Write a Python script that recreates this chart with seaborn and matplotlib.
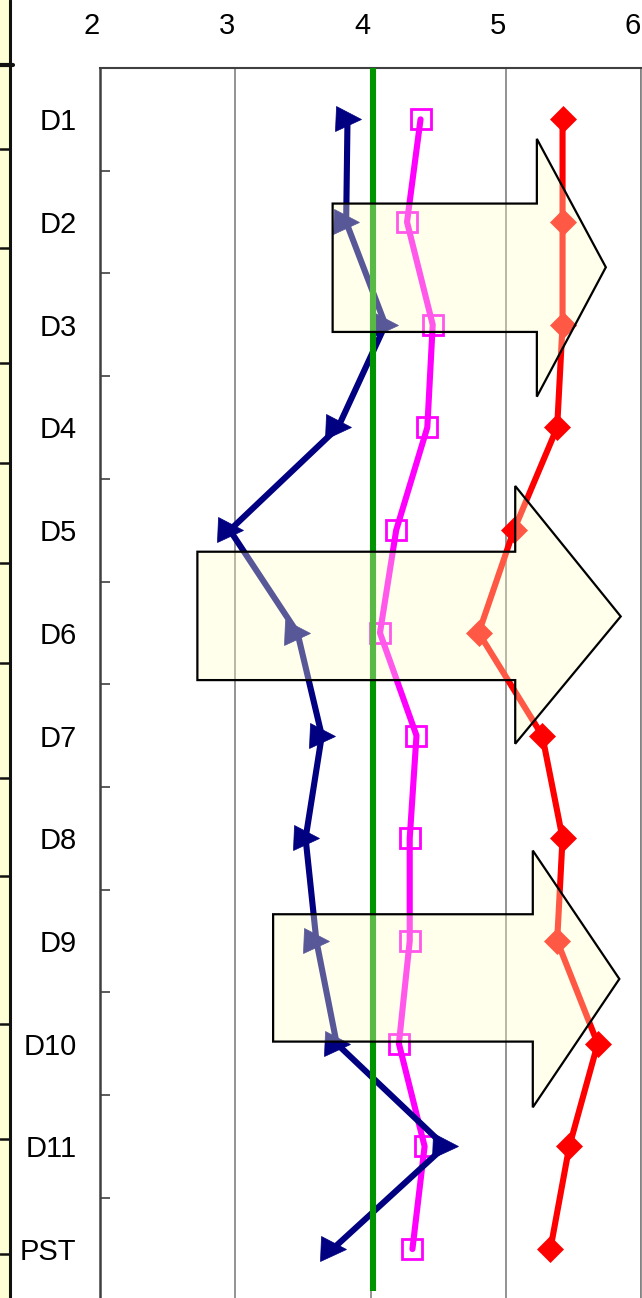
import numpy as np
import pandas as pd
import matplotlib
matplotlib.use("Agg")
import matplotlib.pyplot as plt
import matplotlib.transforms as mtransforms
from matplotlib.patches import Polygon, Rectangle
from matplotlib.lines import Line2D
import seaborn as sns

# ---------------- data ----------------
categories = ["D1", "D2", "D3", "D4", "D5", "D6", "D7", "D8", "D9", "D10", "D11", "PST"]
series_navy = [3.83, 3.82, 4.11, 3.76, 2.96, 3.46, 3.64, 3.52, 3.60, 3.75, 4.55, 3.72]
series_magenta = [4.37, 4.27, 4.46, 4.42, 4.19, 4.07, 4.34, 4.29, 4.29, 4.21, 4.40, 4.31]
series_red = [5.42, 5.42, 5.42, 5.38, 5.06, 4.80, 5.27, 5.42, 5.38, 5.68, 5.47, 5.33]
reference_value = 4.02
x_ticks = [2, 3, 4, 5, 6]

# block-arrow annotations: (body_left_x, neck_x, tip_x, body_top, body_bottom, head_top, head_bottom, tip_y)
arrows = [
    (3.72, 5.23, 5.74, 0.82, 2.07, 0.19, 2.70, 1.44),
    (2.72, 5.07, 5.85, 4.21, 5.46, 3.57, 6.08, 4.84),
    (3.28, 5.20, 5.84, 7.74, 8.98, 7.12, 9.62, 8.37),
]

sns.set_theme(style="white")
plt.rcParams["font.family"] = ["Liberation Sans", "DejaVu Sans"]

W, H = 642, 1298
fig = plt.figure(figsize=(W / 100, H / 100), dpi=100)
ax_left, ax_right, ax_top = 100, 641, 68
ax_bottom = ax_top + 12 * 102.7
ax = fig.add_axes([ax_left / W, (H - ax_bottom) / H, (ax_right - ax_left) / W, (ax_bottom - ax_top) / H])

pos = np.arange(len(categories))
df = pd.DataFrame({
    "cat": categories, "pos": pos,
    "navy": series_navy, "magenta": series_magenta, "red": series_red,
})

ax.set_xlim(2, 6)
ax.set_ylim(11.5, -0.5)

# gridlines
for xv in x_ticks:
    ax.axvline(xv, color="#808080", lw=1.2, zorder=0.5)

common = dict(orient="y", sort=False, estimator=None, ax=ax, legend=False)
sns.lineplot(data=df, x="red", y="pos", color="#FF0000", lw=4.4,
             marker="D", markersize=13, markerfacecolor="#FF0000",
             markeredgecolor="#FF0000", markeredgewidth=0.5, zorder=2, **common)
sns.lineplot(data=df, x="magenta", y="pos", color="#FF00FF", lw=4.4,
             marker="s", markersize=14, markerfacecolor="none",
             markeredgecolor="#FF00FF", markeredgewidth=2.0, zorder=2, **common)
sns.lineplot(data=df, x="navy", y="pos", color="#000080", lw=4.4,
             marker=">", markersize=18, markerfacecolor="#000080",
             markeredgecolor="#000080", markeredgewidth=0.5, zorder=2, **common)

# reference line
ax.vlines(reference_value, -0.5, 11.41, color="#009400", lw=4.4, zorder=3)

# block arrows (semi-transparent overlay)
for (bl, nk, tx, bt, bb, ht, hb, ty) in arrows:
    verts = [(bl, bt), (nk, bt), (nk, ht), (tx, ty), (nk, hb), (nk, bb), (bl, bb)]
    ax.add_patch(Polygon(verts, closed=True, facecolor=(1.0, 1.0, 0.78, 0.35),
                         edgecolor="black", lw=1.6, zorder=4))

# axes styling
ax.set_xticks(x_ticks)
ax.set_xticklabels([str(v) for v in x_ticks])
ax.xaxis.tick_top()
ax.tick_params(axis="x", length=0, pad=20, labelsize=21, labelcolor="black")
offset = mtransforms.ScaledTranslation(-8 / 100, 0, fig.dpi_scale_trans)
for lbl in ax.get_xticklabels():
    lbl.set_transform(lbl.get_transform() + offset)

ax.set_yticks(pos)
ax.set_yticklabels(categories)
ax.set_yticks(np.arange(0.5, 11, 1), minor=True)
ax.tick_params(axis="y", which="major", length=0, pad=17, labelsize=21, labelcolor="black")
ax.tick_params(axis="y", which="minor", direction="in", length=7, width=1.2, color="#404040", left=True)
ax.set_xlabel("")
ax.set_ylabel("")
ax.grid(False)
for side in ["left", "top", "right"]:
    ax.spines[side].set_visible(True)
    ax.spines[side].set_color("#404040")
ax.spines["left"].set_linewidth(1.8)
ax.spines["top"].set_linewidth(1.5)
ax.spines["right"].set_linewidth(1.2)
ax.spines["right"].set_color("#808080")
ax.spines["bottom"].set_visible(False)

# cropped neighbouring panel strip at far left
fig.add_artist(Rectangle((0, 0), 10 / W, 1, transform=fig.transFigure,
                         facecolor="#FFFFD5", edgecolor="none", zorder=0))
fig.add_artist(Line2D([10 / W, 10 / W], [0, 1], transform=fig.transFigure,
                      color="#111111", lw=2.2))
strip_rows = [149, 248, 363, 463, 563, 663, 778, 876, 1024, 1139, 1254]
for yy in strip_rows:
    fig.add_artist(Line2D([0, 10 / W], [1 - yy / H, 1 - yy / H], transform=fig.transFigure,
                          color="#111111", lw=1.8))
fig.add_artist(Line2D([0, 13 / W], [1 - 65 / H, 1 - 65 / H], transform=fig.transFigure,
                      color="#111111", lw=3))

fig.savefig("out.png", dpi=100)
